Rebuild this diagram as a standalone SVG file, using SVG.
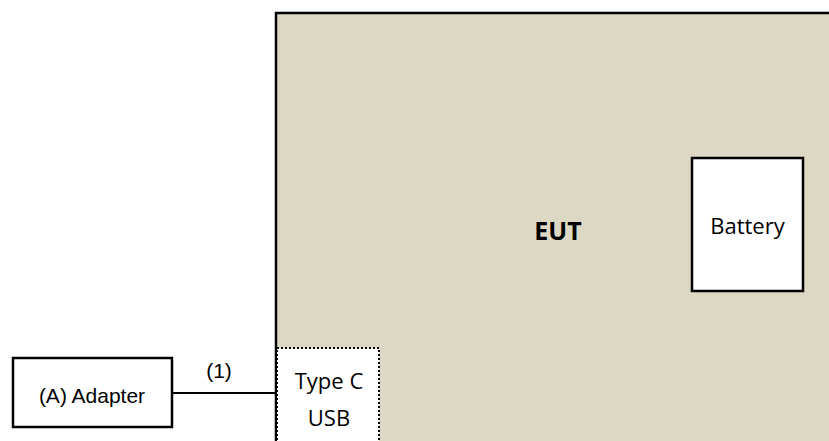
<svg xmlns="http://www.w3.org/2000/svg" width="829" height="441" viewBox="0 0 829 441">
<style>
.box{stroke:#000;stroke-width:2.5}
.cal{font-family:"Open Sans","Liberation Sans",sans-serif;fill:#000}
.ari{font-family:"Liberation Sans",Arial,sans-serif;fill:#000}
</style>
<rect width="829" height="441" fill="#fff"/>
<g id="eut">
<rect class="box" x="276" y="13" width="600" height="460" fill="#ddd8c4"/>
<text class="cal" x="558" y="240" font-size="25" font-weight="bold" text-anchor="middle">EUT</text>
</g>
<g id="battery">
<rect class="box" x="692" y="158" width="111" height="133" fill="#fff"/>
<text class="cal" x="747.5" y="234" font-size="22" text-anchor="middle">Battery</text>
</g>
<g id="typec">
<rect x="277" y="348" width="102" height="110" fill="#fff" stroke="#000" stroke-width="2" stroke-dasharray="2,2"/>
<text class="cal" x="329" y="389" font-size="22" text-anchor="middle">Type C</text>
<text class="cal" x="329" y="426" font-size="22" text-anchor="middle">USB</text>
</g>
<g id="adapter">
<rect class="box" x="13" y="358" width="159" height="69" fill="#fff"/>
<text class="ari" x="92" y="403" font-size="21" text-anchor="middle">(A) Adapter</text>
</g>
<g id="connectors">
<line x1="172" y1="393" x2="277" y2="393" stroke="#000" stroke-width="2"/>
<text class="ari" x="219" y="378" font-size="21" text-anchor="middle">(1)</text>
</g>
</svg>
